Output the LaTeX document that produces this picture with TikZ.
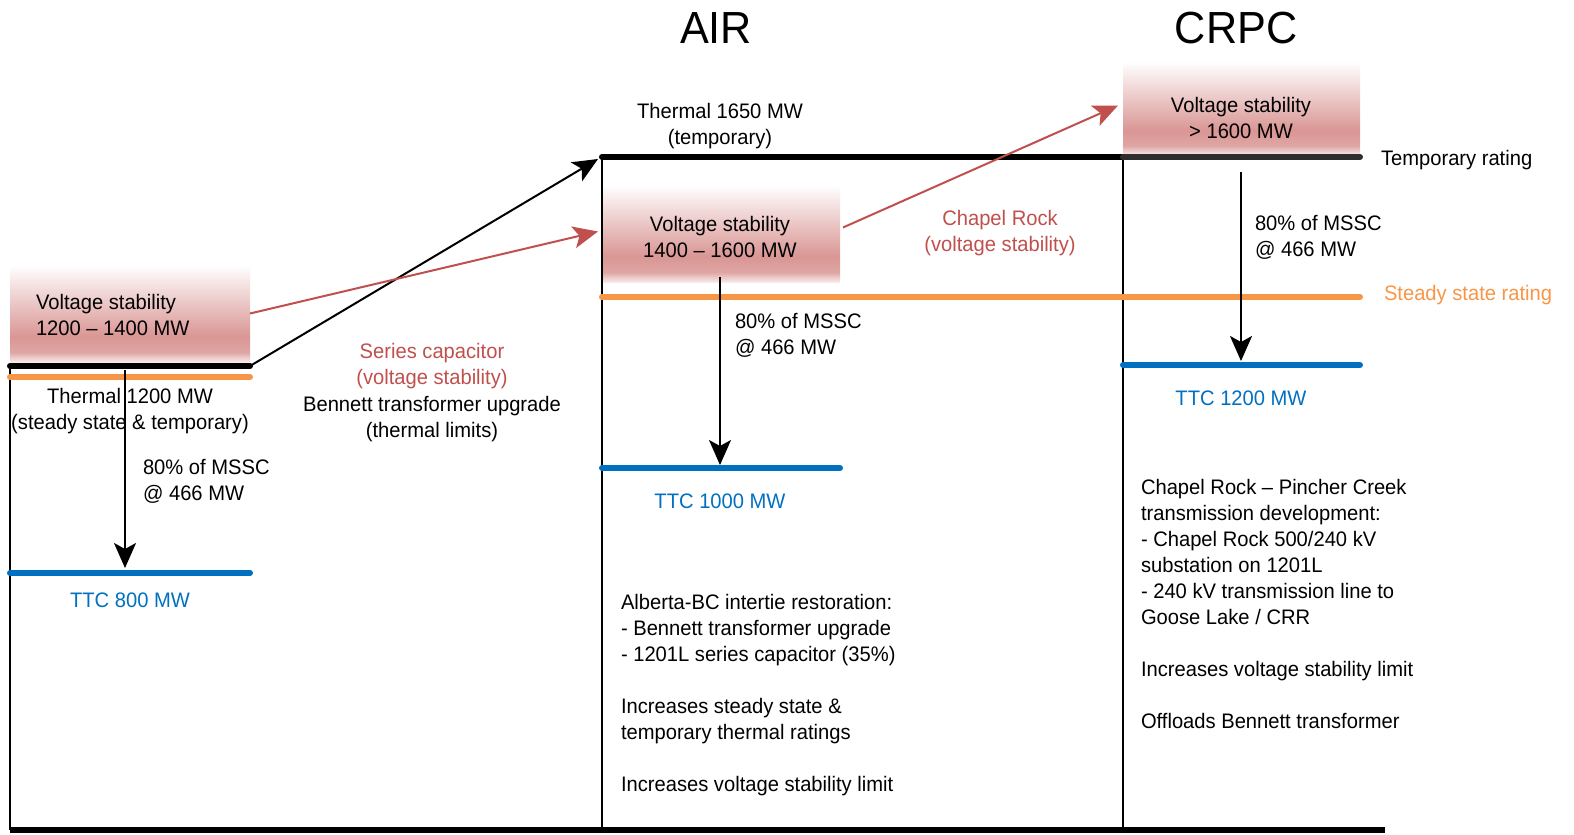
\documentclass[tikz,border=0pt]{standalone}
\usepackage{fontspec}
\setmainfont{Liberation Sans}[FakeStretch=0.96]
\usetikzlibrary{arrows.meta}
\definecolor{vsred}{RGB}{217,150,148}
\definecolor{capred}{RGB}{192,80,77}
\definecolor{ttcblue}{RGB}{0,112,192}
\definecolor{ssorange}{RGB}{247,150,70}
% pale top, strong band low in the box, pale again at the bottom edge
\pgfdeclareverticalshading{vsshade}{100bp}{color(0bp)=(vsred!20!white); color(25bp)=(vsred!20!white); color(30bp)=(vsred!85!white); color(38bp)=(vsred); color(75bp)=(white); color(100bp)=(white)}
\begin{document}
\begin{tikzpicture}[x=1pt,y=-1pt,
  every node/.style={inner sep=0pt, outer sep=0pt},
  font=\fontsize{21}{26}\selectfont,
  lbl/.style={yshift=-3pt},
  vsbox/.style={shade, shading=vsshade, draw=none},
  tline/.style={line width=6pt, line cap=round},
  steadyline/.style={line width=6pt, line cap=round, draw=ssorange},
  ttcline/.style={line width=6pt, line cap=round, draw=ttcblue},
  colline/.style={line width=2pt},
  arr/.style={line width=2pt, -{Stealth[length=25pt, width=22pt, inset=6pt]}},
  redarr/.style={arr, draw=capred, fill=capred},
  title/.style={font=\fontsize{45}{54}\selectfont},
  txt/.style={lbl, align=left},
  ctxt/.style={lbl, align=center}]
\useasboundingbox (0,0) rectangle (1574,835);

% voltage stability bands
\node[vsbox, minimum width=240pt, minimum height=97pt] (vsA) at (130,313.5) {};
\node[vsbox, minimum width=238pt, minimum height=97pt] (vsB) at (721,233.5) {};
\node[vsbox, minimum width=237pt, minimum height=93pt] (vsC) at (1241.5,108.5) {};

% reference coordinates
\coordinate (lTopL) at (10,366);   \coordinate (lTopR) at (250,366);
\coordinate (lSsL) at (10,377);    \coordinate (lSsR) at (250,377);
\coordinate (lTtcL) at (10,573);   \coordinate (lTtcR) at (250,573);
\coordinate (mTopL) at (602,157);  \coordinate (mTopR) at (1123,157);
\coordinate (rTopR) at (1360,157);
\coordinate (mSsL) at (602,297);   \coordinate (rSsR) at (1360,297);
\coordinate (mTtcL) at (602,468);  \coordinate (mTtcR) at (840,468);
\coordinate (rTtcL) at (1123,365); \coordinate (rTtcR) at (1360,365);
\coordinate (baseL) at (10,830);   \coordinate (baseR) at (1385,830);
\coordinate (lBase) at (10,830);   \coordinate (mBase) at (602,830);
\coordinate (rBase) at (1123,830);

% column boundaries
\draw[colline] (lTopL) -- (lBase);
\draw[colline] (mTopL) -- (mBase);
\draw[colline] (mTopR) -- (rBase);

% rating lines
\draw[tline] (lTopL) -- (lTopR);
\draw[steadyline] (lSsL) -- (lSsR);
\draw[ttcline] (lTtcL) -- (lTtcR);
\draw[tline] (mTopL) -- (mTopR);
\draw[tline, draw=black!82] (mTopR) -- (rTopR);
\draw[steadyline] (mSsL) -- (rSsR);
\draw[ttcline] (mTtcL) -- (mTtcR);
\draw[ttcline] (rTtcL) -- (rTtcR);
\draw[line width=6pt] (baseL) -- (baseR);

% MSSC drops
\draw[arr] (125,370) -- (125,568);
\draw[arr] (720,277) -- (720,465);
\draw[arr] (1241,172) -- (1241,361);

% upgrade paths
\draw[arr] (lTopR) -- ([xshift=-4pt,yshift=-2pt]mTopL);
\draw[redarr] (vsA.east) -- ([xshift=-4pt,yshift=2pt]vsB.west);
\draw[redarr] ([xshift=3pt,yshift=6pt]vsB.east) -- ([xshift=-5pt,yshift=3pt]vsC.west);

% titles
\node[title] (tAir) at (716,28) {AIR};
\node[title] (tCrpc) at (1236,28) {CRPC};

% left column text
\node[txt, anchor=west] (vsAt) at (36,312) {Voltage stability\\1200 – 1400 MW};
\node[ctxt] (thA) at (130,408) {Thermal 1200 MW\\(steady state \& temporary)};
\node[txt, anchor=west] (msA) at (143,478) {80\% of MSSC\\@ 466 MW};
\node[lbl, text=ttcblue] (ttcA) at (130,597) {TTC 800 MW};

% between left and middle
\node[ctxt, text=capred] (serCap) at (432,363) {Series capacitor\\(voltage stability)};
\node[ctxt] (benn) at (432,416) {Bennett transformer upgrade\\(thermal limits)};

% middle column text
\node[ctxt] (thB) at (720,123) {Thermal 1650 MW\\(temporary)};
\node[ctxt] (vsBt) at (720,234) {Voltage stability\\1400 – 1600 MW};
\node[txt, anchor=west] (msB) at (735,332) {80\% of MSSC\\@ 466 MW};
\node[lbl, text=ttcblue] (ttcB) at (720,498) {TTC 1000 MW};
\node[txt, anchor=north west] (noteB) at (621,591.5) {Alberta-BC intertie restoration:\\- Bennett transformer upgrade\\- 1201L series capacitor (35\%)\\[26pt]Increases steady state \&\\temporary thermal ratings\\[26pt]Increases voltage stability limit};

% between middle and right
\node[ctxt, text=capred] (chRock) at (1000,230) {Chapel Rock\\(voltage stability)};

% right column text
\node[ctxt] (vsCt) at (1241,115) {Voltage stability\\> 1600 MW};
\node[lbl, anchor=west] (tmpR) at (1381,157) {Temporary rating};
\node[lbl, anchor=west, text=ssorange] (ssR) at (1384,292) {Steady state rating};
\node[txt, anchor=west] (msC) at (1255,234) {80\% of MSSC\\@ 466 MW};
\node[lbl, text=ttcblue] (ttcC) at (1241,395) {TTC 1200 MW};
\node[txt, anchor=north west] (noteC) at (1141,476.5) {Chapel Rock – Pincher Creek\\transmission development:\\- Chapel Rock 500/240 kV\\substation on 1201L\\- 240 kV transmission line to\\Goose Lake / CRR\\[26pt]Increases voltage stability limit\\[26pt]Offloads Bennett transformer};
\end{tikzpicture}
\end{document}
